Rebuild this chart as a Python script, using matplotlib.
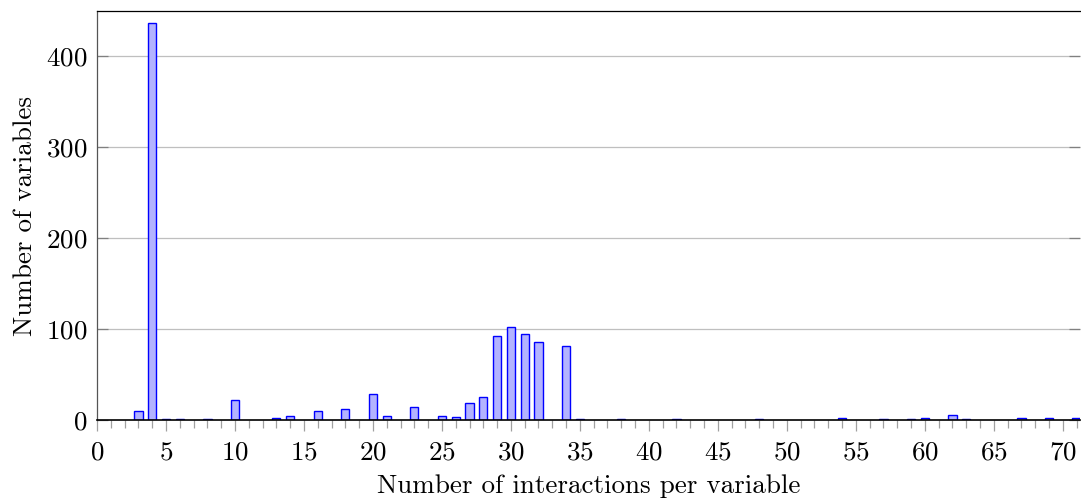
import numpy as np
import matplotlib
matplotlib.use('Agg')
import matplotlib.pyplot as plt
from matplotlib.ticker import MultipleLocator

# interactions per variable -> number of variables
interactions = [3, 4, 5, 6, 8, 10, 13, 14, 16, 18, 20, 21, 23, 25, 26, 27, 28,
                29, 30, 31, 32, 34, 35, 38, 42, 48, 54, 57, 59, 60, 62, 63,
                67, 69, 71]
num_variables = [10, 436, 1, 1, 1, 22, 2, 4, 10, 12, 28, 4, 14, 4, 3, 19, 25,
                 92, 102, 94, 86, 81, 1, 1, 1, 1, 2, 1, 1, 2, 6, 1,
                 2, 2, 2]

x_ticks = [0, 5, 10, 15, 20, 25, 30, 35, 40, 45, 50, 55, 60, 65, 70]
y_ticks = [0, 100, 200, 300, 400]

plt.rcParams['font.family'] = 'cmr10'
plt.rcParams['axes.formatter.use_mathtext'] = True
plt.rcParams['font.size'] = 19.5

fig = plt.figure(figsize=(10.81, 4.98), dpi=100)
ax = fig.add_axes([97 / 1081, 78 / 498, 983 / 1081, 409 / 498])

ax.bar(interactions, num_variables, width=0.6, color='#b3b3ff',
       edgecolor='blue', linewidth=1.0, zorder=3)

ax.set_xlim(0, 71.25)
ax.set_ylim(0, 449)

ax.set_xticks(x_ticks)
ax.xaxis.set_minor_locator(MultipleLocator(1))
ax.set_yticks(y_ticks)

# grid only on y, skip the zero line
for y in y_ticks[1:]:
    ax.axhline(y, color='#bfbfbf', linewidth=0.9, zorder=1)

ax.tick_params(axis='x', which='major', direction='out', length=8,
               width=0.9, color='#a0a0a0', pad=7)
ax.tick_params(axis='x', which='minor', direction='out', length=5.5,
               width=0.9, color='#a0a0a0')
ax.tick_params(axis='y', which='major', direction='in', length=8,
               width=0.9, color='#808080', pad=7, right=True)

ax.spines['bottom'].set_color('black')
ax.spines['bottom'].set_linewidth(1.2)
ax.spines['bottom'].set_zorder(4)
ax.spines['left'].set_color('#555555')
ax.spines['left'].set_linewidth(0.9)
ax.spines['top'].set_color('black')
ax.spines['top'].set_linewidth(0.9)
ax.spines['right'].set_visible(False)

ax.set_xlabel('Number of interactions per variable', labelpad=7)
ax.set_ylabel('Number of variables', labelpad=6)

fig.savefig('out.png', dpi=100)
